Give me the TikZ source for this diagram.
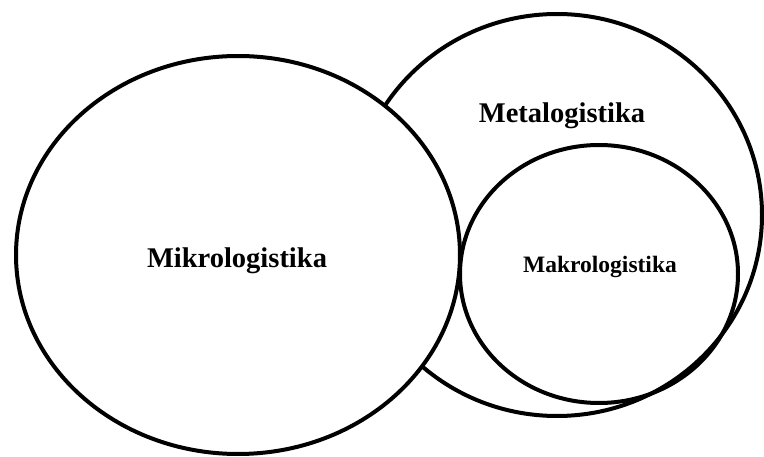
\documentclass[tikz,border=0pt]{standalone}
\usepackage{fontspec}
\setmainfont{Liberation Serif}
\usetikzlibrary{shapes.geometric}
\begin{document}
\begin{tikzpicture}[x=1pt,y=-1pt,
  ring/.style={ellipse,draw=black,line width=4pt,inner sep=0pt},
  lbl/.style={font=\bfseries,anchor=base,inner sep=0pt}]
\useasboundingbox (0,0) rectangle (764,457);
\node[ring,minimum width=410pt,minimum height=402pt] (meta) at (557,215) {};
\node[ring,fill=white,minimum width=444pt,minimum height=398pt] (mikro) at (238,255) {};
\node[ring,minimum width=278pt,minimum height=258pt] (makro) at (599,274) {};
\node[lbl,font=\bfseries\fontsize{28.5}{30}\selectfont] (mikrot) at (237,268) {Mikrologistika};
\node[lbl,font=\bfseries\fontsize{28.5}{30}\selectfont] (metat) at (562,123) {Metalogistika};
\node[lbl,font=\bfseries\fontsize{23.5}{26}\selectfont] (makrot) at (600,273) {Makrologistika};
\end{tikzpicture}
\end{document}
